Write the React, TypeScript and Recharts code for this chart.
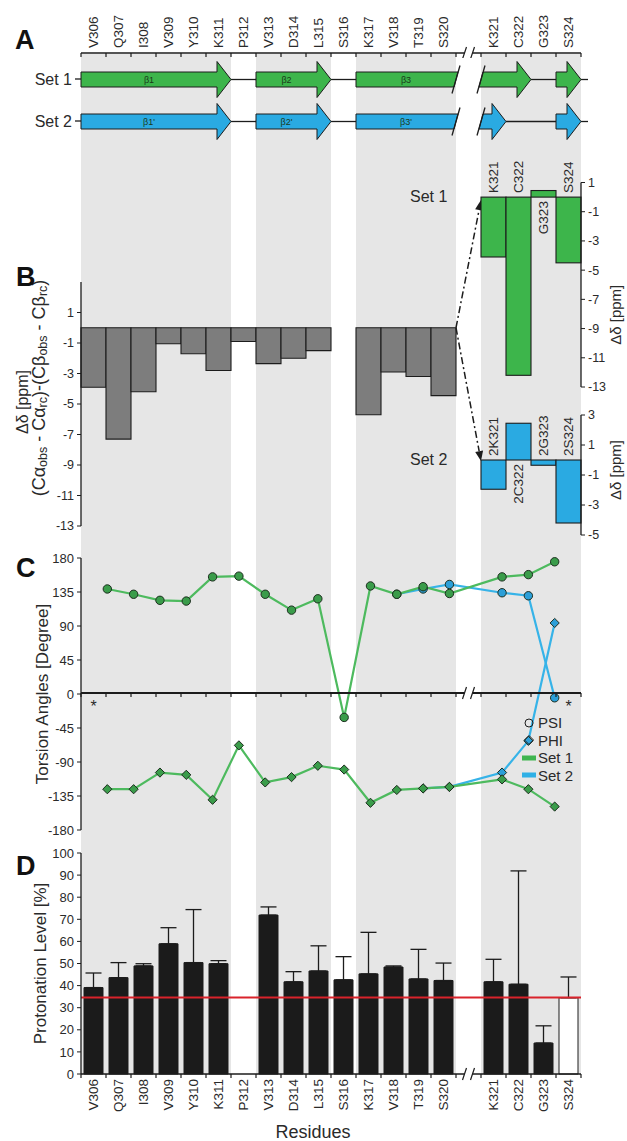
import React from 'react';
import { BarChart, Bar, LineChart, Line, XAxis, YAxis, ReferenceLine, ErrorBar, Cell, Legend } from 'recharts';

// ---------------- data ----------------
const BREAK = '//';
const residues = ['V306', 'Q307', 'I308', 'V309', 'Y310', 'K311', 'P312', 'V313', 'D314', 'L315', 'S316', 'K317', 'V318', 'T319', 'S320', BREAK, 'K321', 'C322', 'G323', 'S324'];
const shaded = [1, 1, 1, 1, 1, 1, 0, 1, 1, 1, 0, 1, 1, 1, 1, 0, 1, 1, 1, 1];
const residueLabels = residues.map((r) => (r === BREAK ? '' : r));
const torsionAxisLabels = ['*', '', '', '', '', '', '', '', '', '', '', '', '', '', '', '', '', '', '', '*'];

// Panel A: secondary structure segments (lengths in residues)
const setNames = ['Set 1', 'Set 2'];
const segmentKinds = ['strand', 'coil', 'strand', 'coil', 'strandOut', 'break', 'strandIn', 'coil', 'strand'];
const set1Lengths = [6, 1, 3, 1, 4, 1, 2, 1, 1];
const set2Lengths = [6, 1, 3, 1, 4, 1, 1, 2, 1];
const set1StrandLabels = ['β1', '', 'β2', '', 'β3', '', '', '', ''];
const set2StrandLabels = ["β1'", '', "β2'", '', "β3'", '', '', '', ''];

// Panel B: secondary chemical shifts
const deltaMain = [-3.9, -7.3, -4.2, -1.05, -1.7, -2.8, -0.9, -2.35, -2.0, -1.5, null, -5.7, -2.9, -3.2, -4.45, null, null, null, null, null];
const deltaSet1 = [null, null, null, null, null, null, null, null, null, null, null, null, null, null, null, null, -4.1, -12.2, 0.45, -4.5];
const deltaSet2 = [null, null, null, null, null, null, null, null, null, null, null, null, null, null, null, null, -1.95, 2.45, -0.35, -4.2];
const set1BarLabels = ['', '', '', '', '', '', '', '', '', '', '', '', '', '', '', '', 'K321', 'C322', 'G323', 'S324'];
const set2BarLabels = ['', '', '', '', '', '', '', '', '', '', '', '', '', '', '', '', '2K321', '2C322', '2G323', '2S324'];

// Panel C: torsion angles
const psiSet1 = [null, 139, 132, 124, 123, 155, 156, 132, 111, 126, -31, 143, 132, 142, 133, null, 155, 158, 175, null];
const phiSet1 = [null, -126, -126, -104, -107, -140, -68, -117, -110, -95, -100, -144, -127, -125, -123, null, -113, -126, -149, null];
const psiSet2 = [null, null, null, null, null, null, null, null, null, null, null, null, 132, 139, 145, null, 134, 130, -5, null];
const phiSet2 = [null, null, null, null, null, null, null, null, null, null, null, null, null, -125, -123, null, -104, -62, 94, null];

// Panel D: protonation level
const protonation = [39.1, 43.6, 48.9, 58.9, 50.4, 49.9, null, 71.9, 41.7, 46.6, 42.6, 45.3, 48.4, 43.0, 42.3, null, 41.7, 40.6, 14.0, 34.5];
const protonationErrUp = [6.6, 6.8, 1.0, 7.3, 24.0, 1.4, null, 3.7, 4.6, 11.4, 10.5, 18.8, 0.5, 13.4, 7.9, null, 10.2, 51.3, 7.8, 9.4];
const protonationHollow = [0, 0, 0, 0, 0, 0, 0, 0, 0, 0, 0, 0, 0, 0, 0, 0, 0, 0, 0, 1];
const protonationThreshold = 34.6;

const legendItems = [
  { label: 'PSI', symbol: 'circle' },
  { label: 'PHI', symbol: 'diamond' },
  { label: 'Set 1', symbol: 'rect', color: '#3fb54f' },
  { label: 'Set 2', symbol: 'rect', color: '#2fb0e6' },
];

// ---------------- styles / layout ----------------
const FONT = '"Liberation Sans", Arial, Helvetica, sans-serif';
const INK = '#1c1c1c';
const TXT = '#2a2a2a';
const GREEN = '#3db54b';
const BLUE = '#2aaae2';
const GRAY_BAR = '#7d7d7d';
const BAND = '#e6e6e6';
const GREEN_LINE = '#4dba5e';
const BLUE_LINE = '#36b3e8';
const GREEN_DOT = '#3a9c4a';
const BLUE_DOT = '#2c9fd8';
const RED = '#d9232b';

const CHART_W = 627;
const PLOT_L = 81;
const PLOT_R = 581;
const M_RIGHT = CHART_W - PLOT_R;
const SLOT = (PLOT_R - PLOT_L) / residues.length;
const AX_MARGIN = 5;

// panel B geometry
const B_TOP = 282, B_H = 244, B_DOM: [number, number] = [-13, 3];
const S1_TOP = 182.5, S1_H = 204.5, S1_DOM: [number, number] = [-13, 1];
const S2_TOP = 415, S2_H = 120, S2_DOM: [number, number] = [-5, 3];
const zeroPx = (top: number, h: number, dom: [number, number]) => top + (dom[1] * h) / (dom[1] - dom[0]);
const toMain = (px: number) => B_DOM[1] - ((px - B_TOP) * (B_DOM[1] - B_DOM[0])) / B_H;
const ARROW1_Y = toMain(zeroPx(S1_TOP, S1_H, S1_DOM) + 3);
const ARROW2_Y = toMain(zeroPx(S2_TOP, S2_H, S2_DOM) + 1);

const rows = residues.map((id, i) => ({
  id,
  band: shaded[i],
  bMain: deltaMain[i],
  bSet1: deltaSet1[i],
  bSet2: deltaSet2[i],
  psi1: psiSet1[i],
  phi1: phiSet1[i],
  psi2: psiSet2[i],
  phi2: phiSet2[i],
  prot: protonation[i],
  protErr: protonationErrUp[i] == null ? null : [0, protonationErrUp[i]],
}));

const strandRows = setNames.map((name, r) => {
  const lens = r === 0 ? set1Lengths : set2Lengths;
  const o: any = { set: name };
  lens.forEach((l, k) => (o['seg' + k] = l));
  return o;
});

// ---------------- custom renderers ----------------
function ResidueTick(props: any) {
  const { x, y, payload, orient, labels, asterisk } = props;
  const idx = residues.indexOf(payload.value);
  const top = orient === 'top';
  const axisY = top ? y + AX_MARGIN : y - AX_MARGIN;
  const half = SLOT / 2;
  const isBreak = residues[idx] === BREAK;
  const label = labels[idx];
  const tk = (tx: number) => <line x1={tx} x2={tx} y1={axisY} y2={axisY + 4} stroke={INK} strokeWidth={1.2} />;
  return (
    <g>
      {idx === 0 && tk(x - half)}
      {tk(x + half)}
      {isBreak && (
        <g>
          <rect x={x - 4} y={axisY - 3} width={8} height={6} fill="#fff" />
          <line x1={x - 6} y1={axisY + 6} x2={x - 2} y2={axisY - 6} stroke={INK} strokeWidth={1.2} />
          <line x1={x + 2} y1={axisY + 6} x2={x + 6} y2={axisY - 6} stroke={INK} strokeWidth={1.2} />
        </g>
      )}
      {label && asterisk && (
        <text x={x} y={axisY + 19} textAnchor="middle" fontSize={16} fontFamily={FONT} fill={TXT}>
          {label}
        </text>
      )}
      {label && !asterisk && (
        <text
          x={x}
          y={y}
          transform={`rotate(-90 ${x} ${y})`}
          textAnchor={top ? 'start' : 'end'}
          dominantBaseline="central"
          fontSize={13.5}
          fontFamily={FONT}
          fill={TXT}
        >
          {label}
        </text>
      )}
    </g>
  );
}

const HEAD = 14;
const HEAD_HALF = 18;
function StrandShape(props: any) {
  const { x, y, width, height, payload, kind, k } = props;
  if (x == null || width == null || width <= 0) return <g />;
  const isSet1 = payload.set === setNames[0];
  const fill = isSet1 ? GREEN : BLUE;
  const label = (isSet1 ? set1StrandLabels : set2StrandLabels)[k];
  const cy = y + height / 2;
  const t = cy - height / 2;
  const b = cy + height / 2;
  const x2 = x + width;
  const st = { fill, stroke: INK, strokeWidth: 1, strokeLinejoin: 'miter' as const };
  if (kind === 'coil') return <line x1={x} x2={x2} y1={cy} y2={cy} stroke={INK} strokeWidth={1.3} />;
  if (kind === 'break') return <g />;
  let pts = '';
  let extra: any = null;
  let bodyEnd = x2 - HEAD;
  if (kind === 'strand') {
    pts = `${x},${t} ${bodyEnd},${t} ${bodyEnd},${cy - HEAD_HALF} ${x2},${cy} ${bodyEnd},${cy + HEAD_HALF} ${bodyEnd},${b} ${x},${b}`;
    if (k === segmentKinds.length - 1) extra = <line x1={x2} x2={x2 + 7} y1={cy} y2={cy} stroke={INK} strokeWidth={1.3} />;
  } else if (kind === 'strandOut') {
    bodyEnd = x2;
    pts = `${x},${t} ${x2 + 2},${t} ${x2 - 2},${b} ${x},${b}`;
    extra = <line x1={x2 + 4} y1={cy - 14} x2={x2 - 4} y2={cy + 14} stroke={INK} strokeWidth={1.3} />;
  } else if (kind === 'strandIn') {
    pts = `${x + 2},${t} ${bodyEnd},${t} ${bodyEnd},${cy - HEAD_HALF} ${x2},${cy} ${bodyEnd},${cy + HEAD_HALF} ${bodyEnd},${b} ${x - 2},${b}`;
    extra = <line x1={x + 4} y1={cy - 14} x2={x - 4} y2={cy + 14} stroke={INK} strokeWidth={1.3} />;
  }
  return (
    <g>
      <polygon points={pts} {...st} />
      {extra}
      {label && (
        <text x={(x + bodyEnd) / 2} y={cy} textAnchor="middle" dominantBaseline="central" fontSize={9} fontFamily={FONT} fill="#1a3a1a">
          {label}
        </text>
      )}
    </g>
  );
}

function InsetBar(props: any) {
  const { x, y, width, height, value, payload, fill, labels } = props;
  if (value == null || x == null || payload == null) return <g />;
  const top = Math.min(y, y + height);
  const h = Math.abs(height);
  const v = Array.isArray(value) ? value[1] : value;
  const neg = v < 0;
  const zeroY = neg ? top : top + h;
  const cx = x + width / 2;
  const ly = neg ? zeroY - 4 : zeroY + 4;
  const label = labels[residues.indexOf(payload.id)];
  return (
    <g>
      <rect x={x} y={top} width={width} height={h} fill={fill} stroke={INK} strokeWidth={1.1} />
      {label && (
        <text x={cx} y={ly} transform={`rotate(-90 ${cx} ${ly})`} textAnchor={neg ? 'start' : 'end'} dominantBaseline="central" fontSize={13.5} fontFamily={FONT} fill={TXT}>
          {label}
        </text>
      )}
    </g>
  );
}

// arrow from the right edge of the start category to the left edge of the end category
function DashedArrow(props: any) {
  const { x1: ax1, y1, x2: ax2, y2 } = props;
  if (ax1 == null) return <g />;
  const x1 = ax1 + SLOT / 2;
  const x2 = ax2 - SLOT / 2;
  const ang = Math.atan2(y2 - y1, x2 - x1);
  const L = 10, Wd = 4;
  const bx = x2 - L * Math.cos(ang), by = y2 - L * Math.sin(ang);
  const px = -Math.sin(ang) * Wd, py = Math.cos(ang) * Wd;
  return (
    <g>
      <line x1={x1} y1={y1} x2={bx} y2={by} stroke={INK} strokeWidth={1.5} strokeDasharray="7 3 2 3" />
      <polygon points={`${x2},${y2} ${bx + px},${by + py} ${bx - px},${by - py}`} fill={INK} />
    </g>
  );
}

const torsionDot = (symbol: string, fill: string) => (p: any) => {
  const { cx, cy, value, index } = p;
  if (value == null || cx == null || cy == null) return <g key={index} />;
  if (symbol === 'circle') return <circle key={index} cx={cx} cy={cy} r={4.2} fill={fill} stroke="#1d2e1f" strokeWidth={1} />;
  const r = 4.6;
  return <polygon key={index} points={`${cx},${cy - r} ${cx + r},${cy} ${cx},${cy + r} ${cx - r},${cy}`} fill={fill} stroke="#1d2e1f" strokeWidth={1} />;
};

const rotTitle = (x: number, y: number, content: any, size: number, key?: string) => (
  <text key={key} x={x} y={y} transform={`rotate(-90 ${x} ${y})`} textAnchor="middle" dominantBaseline="central" fontSize={size} fontFamily={FONT} fill={TXT}>
    {content}
  </text>
);

const BTitle = (props: any) => {
  const vb = props.viewBox || {};
  const cy = (vb.y || 0) + (vb.height || 0) / 2;
  return (
    <g>
      {rotTitle(22, cy - 2, 'Δδ [ppm]', 16, 'l1')}
      {rotTitle(
        39,
        cy - 16,
        [
          <tspan key="a">(Cα</tspan>,
          <tspan key="b" dy={4} fontSize={12.5}>obs</tspan>,
          <tspan key="c" dy={-4}> - Cα</tspan>,
          <tspan key="d" dy={4} fontSize={12.5}>rc</tspan>,
          <tspan key="e" dy={-4}>)-(Cβ</tspan>,
          <tspan key="f" dy={4} fontSize={12.5}>obs</tspan>,
          <tspan key="g" dy={-4}> - Cβ</tspan>,
          <tspan key="h" dy={4} fontSize={12.5}>rc</tspan>,
          <tspan key="i" dy={-4}>)</tspan>,
        ],
        18,
        'l2'
      )}
    </g>
  );
};

const leftTitle = (text: string, x: number, dy = 0) => (props: any) => {
  const vb = props.viewBox || {};
  return rotTitle(x, (vb.y || 0) + (vb.height || 0) / 2 + dy, text, 17);
};
const rightTitle = (text: string, dy: number) => (props: any) => {
  const vb = props.viewBox || {};
  return rotTitle(615, (vb.y || 0) + (vb.height || 0) / 2 + dy, text, 15);
};

const LegendContent = () => (
  <div style={{ fontFamily: FONT, fontSize: 15, color: TXT, lineHeight: '17.5px' }}>
    {legendItems.map((it) => (
      <div key={it.label} style={{ display: 'flex', alignItems: 'center' }}>
        <svg width={14} height={12} style={{ marginRight: 2 }}>
          {it.symbol === 'circle' && <circle cx={7} cy={6} r={4} fill="none" stroke={INK} strokeWidth={1} />}
          {it.symbol === 'diamond' && <polygon points="7,1.5 11.5,6 7,10.5 2.5,6" fill="none" stroke={INK} strokeWidth={1} />}
          {it.symbol === 'rect' && <rect x={0} y={3.5} width={14} height={5} fill={it.color} />}
        </svg>
        <span>{it.label}</span>
      </div>
    ))}
  </div>
);

const axisTickStyle = { fontSize: 13, fill: TXT, fontFamily: FONT };
const axisLineStyle = { stroke: INK, strokeWidth: 1.3 };

const Letter = ({ ch, x, y }: { ch: string; x: number; y: number }) => (
  <div style={{ position: 'absolute', left: x, top: y, fontFamily: FONT, fontWeight: 700, fontSize: 27, lineHeight: '27px', color: '#111' }}>{ch}</div>
);
const SetText = ({ t, x, y }: { t: string; x: number; y: number }) => (
  <div style={{ position: 'absolute', left: x, top: y, fontFamily: FONT, fontSize: 16, lineHeight: '18px', color: TXT }}>{t}</div>
);

const abs = (top: number): React.CSSProperties => ({ position: 'absolute', left: 0, top });

export default function App() {
  return (
    <div style={{ position: 'absolute', left: 0, top: 0, width: CHART_W, height: 1141, background: '#fff', overflow: 'hidden' }}>
      {/* background residue bands */}
      <div style={abs(54)}>
        <BarChart width={CHART_W} height={1021} data={rows} margin={{ top: 0, right: M_RIGHT, bottom: 0, left: PLOT_L }} barCategoryGap={0}>
          <XAxis dataKey="id" hide />
          <YAxis hide domain={[0, 1]} />
          <Bar dataKey="band" fill={BAND} isAnimationActive={false} />
        </BarChart>
      </div>

      {/* Panel A: top residue axis */}
      <div style={abs(0)}>
        <BarChart width={CHART_W} height={58} data={rows} margin={{ top: 3, right: M_RIGHT, bottom: 3, left: PLOT_L }}>
          <XAxis dataKey="id" orientation="top" height={50} interval={0} tickLine={false} tickSize={0} tickMargin={AX_MARGIN} axisLine={axisLineStyle} tick={<ResidueTick orient="top" labels={residueLabels} />} />
          <YAxis hide />
        </BarChart>
      </div>

      {/* Panel A: strands */}
      <div style={abs(58)}>
        <BarChart layout="vertical" width={CHART_W} height={84} data={strandRows} margin={{ top: 0, right: M_RIGHT, bottom: 0, left: 6 }} barSize={15}>
          <XAxis type="number" domain={[0, 20]} hide />
          <YAxis type="category" dataKey="set" width={PLOT_L - 6} axisLine={false} tickLine={{ stroke: INK, strokeWidth: 1.3 }} tickSize={6} tickMargin={3} tick={{ fontSize: 16, fill: TXT, fontFamily: FONT }} />
          {segmentKinds.map((kind, k) => (
            <Bar key={k} dataKey={'seg' + k} stackId="s" isAnimationActive={false} shape={(p: any) => <StrandShape {...p} kind={kind} k={k} />} />
          ))}
        </BarChart>
      </div>

      {/* Panel B main */}
      <div style={abs(180)}>
        <BarChart width={CHART_W} height={B_TOP - 180 + B_H + 14} data={rows} margin={{ top: B_TOP - 180, right: M_RIGHT, bottom: 14, left: PLOT_L - 40 }} barCategoryGap={0}>
          <XAxis dataKey="id" hide />
          <YAxis width={40} domain={B_DOM} ticks={[1, -1, -3, -5, -7, -9, -11, -13]} interval={0} tickSize={4} tickMargin={3} axisLine={axisLineStyle} tickLine={{ stroke: INK }} tick={{ ...axisTickStyle, fontSize: 12.5 }} label={{ content: BTitle } as any} />
          <Bar dataKey="bMain" fill={GRAY_BAR} stroke={INK} strokeWidth={1.1} isAnimationActive={false} />
          <ReferenceLine segment={[{ x: 'S320', y: 0 }, { x: 'K321', y: ARROW1_Y }]} ifOverflow="visible" shape={DashedArrow} />
          <ReferenceLine segment={[{ x: 'S320', y: 0 }, { x: 'K321', y: ARROW2_Y }]} ifOverflow="visible" shape={DashedArrow} />
        </BarChart>
      </div>

      {/* Panel B inset Set 1 */}
      <div style={abs(140)}>
        <BarChart width={CHART_W} height={S1_TOP - 140 + S1_H + 10} data={rows} margin={{ top: S1_TOP - 140, right: 0, bottom: 10, left: PLOT_L }} barCategoryGap={0}>
          <XAxis dataKey="id" hide />
          <YAxis orientation="right" width={M_RIGHT} domain={S1_DOM} ticks={[1, -1, -3, -5, -7, -9, -11, -13]} interval={0} tickSize={4} tickMargin={3} axisLine={axisLineStyle} tickLine={{ stroke: INK }} tick={{ ...axisTickStyle, fontSize: 12.5 }} label={{ content: rightTitle('Δδ [ppm]', 30) } as any} />
          <Bar dataKey="bSet1" isAnimationActive={false} shape={(p: any) => <InsetBar {...p} fill={GREEN} labels={set1BarLabels} />} />
        </BarChart>
      </div>

      {/* Panel B inset Set 2 */}
      <div style={abs(390)}>
        <BarChart width={CHART_W} height={S2_TOP - 390 + S2_H + 12} data={rows} margin={{ top: S2_TOP - 390, right: 0, bottom: 12, left: PLOT_L }} barCategoryGap={0}>
          <XAxis dataKey="id" hide />
          <YAxis orientation="right" width={M_RIGHT} domain={S2_DOM} ticks={[3, 1, -1, -3, -5]} interval={0} tickSize={4} tickMargin={3} axisLine={axisLineStyle} tickLine={{ stroke: INK }} tick={{ ...axisTickStyle, fontSize: 12.5 }} label={{ content: rightTitle('Δδ [ppm]', -5) } as any} />
          <Bar dataKey="bSet2" isAnimationActive={false} shape={(p: any) => <InsetBar {...p} fill={BLUE} labels={set2BarLabels} />} />
        </BarChart>
      </div>

      {/* Panel C */}
      <div style={abs(520)}>
        <LineChart width={CHART_W} height={320} data={rows} margin={{ top: 38, right: M_RIGHT, bottom: 10, left: PLOT_L - 40 }}>
          <XAxis dataKey="id" hide />
          <YAxis width={40} domain={[-180, 180]} ticks={[180, 135, 90, 45, 0, -45, -90, -135, -180]} interval={0} tickSize={4} tickMargin={3} axisLine={axisLineStyle} tickLine={{ stroke: INK }} tick={axisTickStyle} label={{ content: leftTitle('Torsion Angles [Degree]', 42) } as any} />
          <Line dataKey="psi2" stroke={BLUE_LINE} strokeWidth={2.2} connectNulls dot={torsionDot('circle', BLUE_DOT)} isAnimationActive={false} />
          <Line dataKey="phi2" stroke={BLUE_LINE} strokeWidth={2.2} connectNulls dot={torsionDot('diamond', BLUE_DOT)} isAnimationActive={false} />
          <Line dataKey="psi1" stroke={GREEN_LINE} strokeWidth={2.2} connectNulls dot={torsionDot('circle', GREEN_DOT)} isAnimationActive={false} />
          <Line dataKey="phi1" stroke={GREEN_LINE} strokeWidth={2.2} connectNulls dot={torsionDot('diamond', GREEN_DOT)} isAnimationActive={false} />
          <Legend layout="vertical" align="center" verticalAlign="middle" wrapperStyle={{ left: 522, top: 194, width: 80 }} content={LegendContent as any} />
        </LineChart>
      </div>

      {/* Panel C zero axis */}
      <div style={abs(680)}>
        <BarChart width={CHART_W} height={42} data={rows} margin={{ top: 11, right: M_RIGHT, bottom: 0, left: PLOT_L }}>
          <XAxis dataKey="id" height={29} interval={0} tickLine={false} tickSize={0} tickMargin={AX_MARGIN} axisLine={{ stroke: INK, strokeWidth: 2 }} tick={<ResidueTick orient="bottom" labels={torsionAxisLabels} asterisk />} />
          <YAxis hide />
        </BarChart>
      </div>

      {/* Panel D */}
      <div style={abs(820)}>
        <BarChart width={CHART_W} height={321} data={rows} margin={{ top: 33, right: M_RIGHT, bottom: 0, left: PLOT_L - 40 }} barSize={19}>
          <XAxis
            dataKey="id"
            height={67}
            interval={0}
            tickLine={false}
            tickSize={0}
            tickMargin={AX_MARGIN}
            axisLine={axisLineStyle}
            tick={<ResidueTick orient="bottom" labels={residueLabels} />}
            label={{ content: () => <text x={313} y={1138 - 820} textAnchor="middle" fontSize={18} fontFamily={FONT} fill={TXT}>Residues</text> } as any}
          />
          <YAxis width={40} domain={[0, 100]} ticks={[0, 10, 20, 30, 40, 50, 60, 70, 80, 90, 100]} interval={0} tickSize={4} tickMargin={3} axisLine={axisLineStyle} tickLine={{ stroke: INK }} tick={axisTickStyle} label={{ content: leftTitle('Protonation Level [%]', 40) } as any} />
          <Bar dataKey="prot" stroke={INK} strokeWidth={1} isAnimationActive={false}>
            {rows.map((r, i) => (
              <Cell key={r.id} fill={protonationHollow[i] ? '#ffffff' : '#1b1b1b'} />
            ))}
            <ErrorBar dataKey="protErr" width={8} stroke={INK} strokeWidth={1.3} direction="y" />
          </Bar>
          <ReferenceLine y={protonationThreshold} stroke={RED} strokeWidth={2} />
        </BarChart>
      </div>

      <Letter ch="A" x={15} y={27} />
      <Letter ch="B" x={16} y={264} />
      <Letter ch="C" x={16} y={555} />
      <Letter ch="D" x={16} y={853} />
      <SetText t="Set 1" x={410} y={188} />
      <SetText t="Set 2" x={410} y={451} />
    </div>
  );
}
